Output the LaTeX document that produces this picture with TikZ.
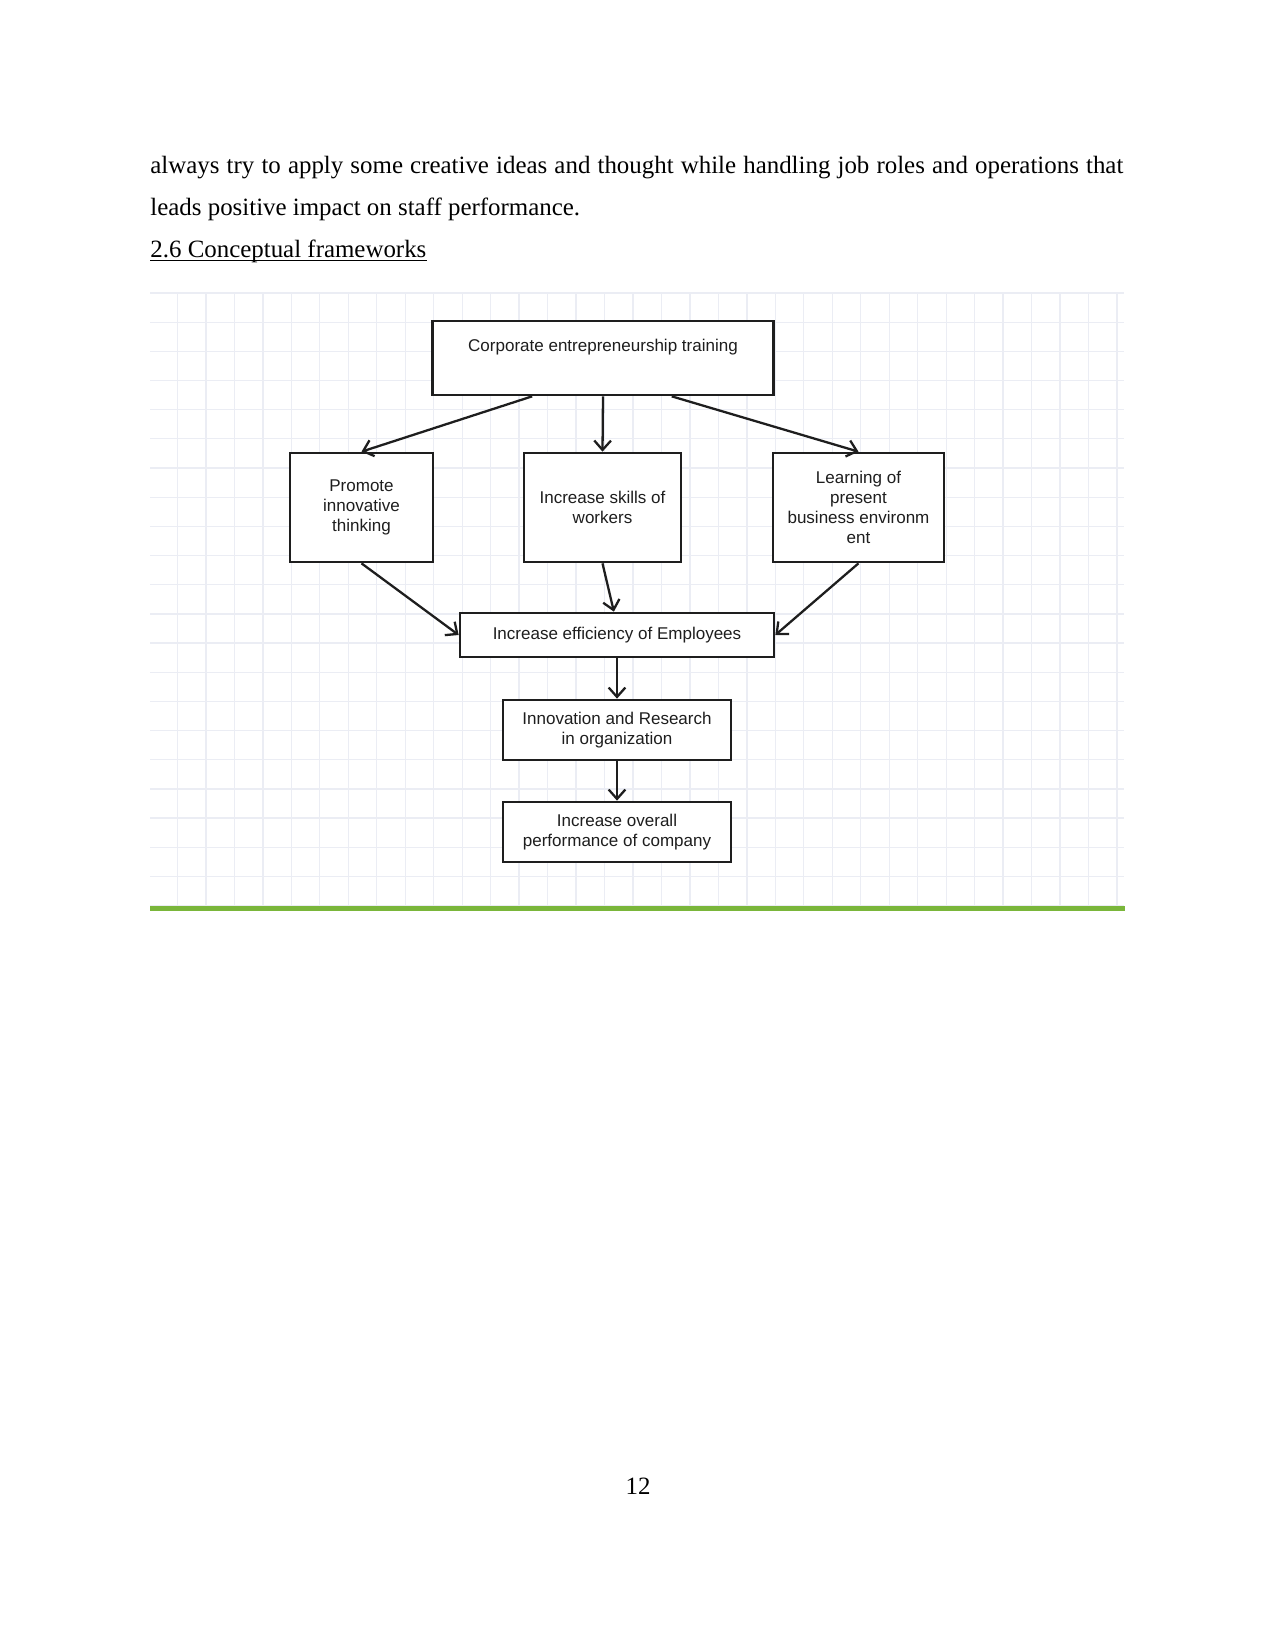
\documentclass[tikz,border=0pt]{standalone}
\usepackage{fontspec}
\setmainfont{Liberation Serif}
\newfontfamily\diagfont{Liberation Sans}
\usetikzlibrary{arrows.meta}
\definecolor{gridgray}{RGB}{235,237,244}
\definecolor{bargreen}{RGB}{122,182,58}
\definecolor{inkgray}{RGB}{30,30,30}

\begin{document}
\begin{tikzpicture}[x=0.48bp, y=-0.48bp,
        box/.style={draw=inkgray, line width=1.3bp, fill=white, align=center, inner sep=2bp,
            font=\diagfont\fontsize{8.2}{9.6}\selectfont, text=inkgray},
        link/.style={draw=inkgray, line width=1.1bp, -{Straight Barb[length=4.5bp,width=8bp]}},
        gridline/.style={draw=gridgray, line width=0.6bp},
        bodytext/.style={anchor=base west, inner sep=0pt, font=\fontsize{12}{14}\selectfont}]
        % 页面
        \useasboundingbox (0,0) rectangle (1275,1651);

        % 正文
        \node[bodytext] (line1) at (150,173)
            {\makebox[467bp][s]{always try to apply some creative ideas and thought while handling job roles and operations that}};
        \node[bodytext] (line2) at (150,215) {leads positive impact on staff performance.};
        \node[bodytext] (heading) at (150,257) {2.6 Conceptual frameworks};
        \draw[line width=0.6bp] ([yshift=-1.6bp]heading.base west) -- ([yshift=-1.6bp]heading.base east);

        % 网格背景
        \foreach \k in {1,...,34}
            \draw[gridline] ({149+28.47*\k},293) -- ({149+28.47*\k},906);
        \foreach \k in {0,...,21}
            \draw[gridline] (150,{293+29.17*\k}) -- (1124,{293+29.17*\k});
        \draw[bargreen, line width=2.4bp] (150,908.5) -- (1125,908.5);

        % 方框
        \node[box, minimum width=164bp, minimum height=35.5bp, text depth=12pt] (train) at (603,358)
            {Corporate entrepreneurship training};
        \node[box, minimum width=68.6bp, minimum height=52.3bp] (promote) at (361.5,507.5)
            {Promote\\innovative\\thinking};
        \node[box, minimum width=75.4bp, minimum height=52.3bp] (skills) at (602.5,507.5)
            {Increase skills of\\workers};
        \node[box, minimum width=82.1bp, minimum height=52.3bp] (learn) at (858.5,507.5)
            {Learning of\\present\\business environm\\ent};
        \node[box, minimum width=150.7bp, minimum height=21.1bp] (effic) at (617,635)
            {Increase efficiency of Employees};
        \node[box, minimum width=109.4bp, minimum height=28.8bp] (innov) at (617,730)
            {Innovation and Research\\in organization};
        \node[box, minimum width=109.4bp, minimum height=28.8bp] (overall) at (617,832)
            {Increase overall\\performance of company};

        % 箭头
        \draw[link] ([xshift=-34bp]train.south) -- (promote.north);
        \draw[link] (train.south) -- (skills.north);
        \draw[link] ([xshift=33bp]train.south) -- (learn.north);
        \draw[link] (promote.south) -- (effic.west);
        \draw[link] (skills.south) -- ([xshift=-1.5bp]effic.north);
        \draw[link] (learn.south) -- (effic.east);
        \draw[link] (effic.south) -- (innov.north);
        \draw[link] (innov.south) -- (overall.north);

        % 页码
        \node[anchor=base, inner sep=0pt, font=\fontsize{12}{14}\selectfont] (pagenum) at (638,1494) {12};
    \end{tikzpicture}
\end{document}
